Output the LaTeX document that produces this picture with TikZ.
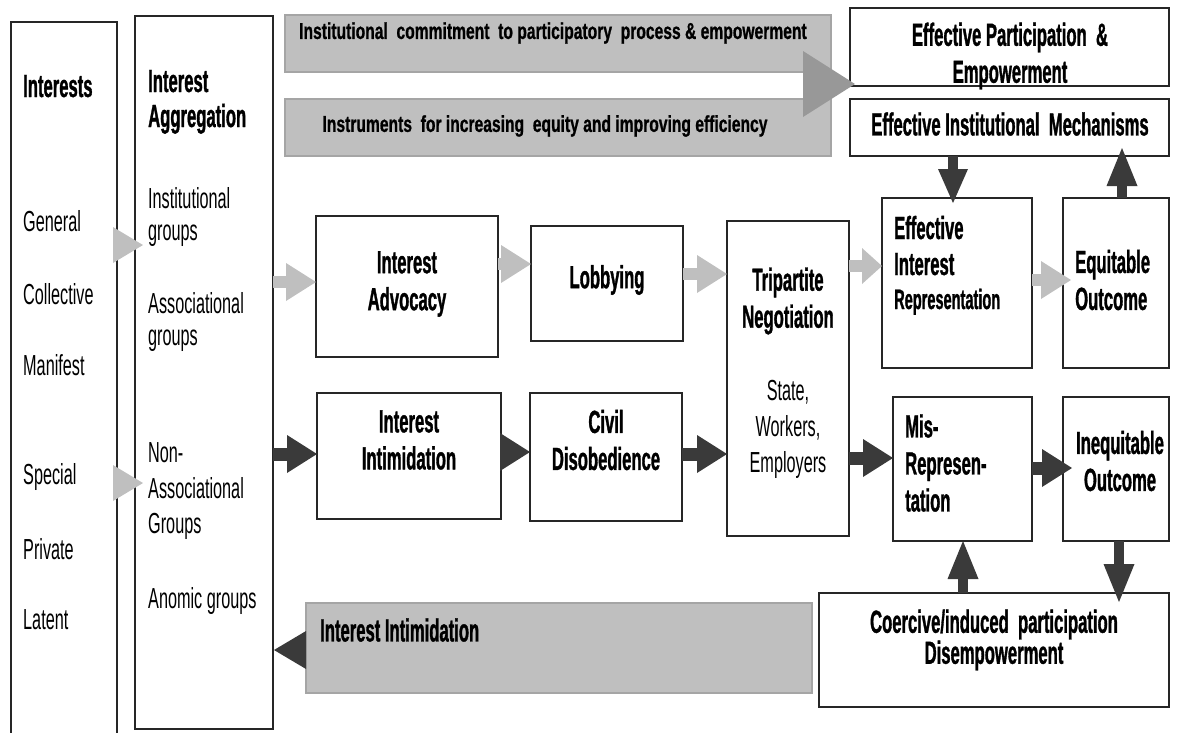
\documentclass[tikz,border=0pt]{standalone}
\usepackage{fontspec}
\setmainfont{Liberation Sans}
\newfontfamily\rgf{Liberation Sans}[FakeStretch=0.56]
\newfontfamily\bdf{Liberation Sans Bold}[FakeStretch=0.52,FakeBold=1]
\newfontfamily\bnf{Liberation Sans Bold}[FakeStretch=0.68,FakeBold=0.8]
\usetikzlibrary{arrows.meta,calc}
\definecolor{lgray}{HTML}{BFBFBF}
\definecolor{dgray}{HTML}{3A3A3A}
\definecolor{bgray}{HTML}{BFBFBF}
\definecolor{bedge}{HTML}{A5A5A5}
\definecolor{tgray}{HTML}{989898}
\tikzset{
  box/.style={draw=black!85, line width=1.4pt, inner sep=0pt, outer sep=0pt},
  banner/.style={draw=bedge, fill=bgray, line width=1.2pt, inner sep=0pt, outer sep=0pt},
  bt/.style={font=\bdf\fontsize{32}{37}\selectfont, align=center, inner sep=0pt},
  rt/.style={font=\rgf\fontsize{29}{35}\selectfont, inner sep=0pt},
  bant/.style={font=\bnf\fontsize{23}{26}\selectfont, inner sep=0pt},
  lar/.style={draw=lgray, line width=12pt, -{Triangle[length=30pt,width=38pt,line width=0pt]}},
  dar/.style={draw=dgray, line width=13pt, -{Triangle[length=30pt,width=38pt,line width=0pt]}},
  var/.style={draw=dgray, line width=10pt, -{Triangle[length=38pt,width=31pt,line width=0pt]}},
  lhead/.style={draw=lgray, line width=0.1pt, -{Triangle[length=30pt,width=36pt,line width=0pt]}},
  bighead/.style={draw=tgray, line width=0.1pt, -{Triangle[length=52pt,width=66pt,line width=0pt]}},
  dhead/.style={draw=dgray, line width=0.1pt, -{Triangle[length=32pt,width=38pt,line width=0pt]}},
}
\newcommand\mkbox[5]{\node[box, minimum width={#4-#2}, minimum height={#5-#3}] (#1) at ({(#2+#4)/2},{(#3+#5)/2}) {};}
\begin{document}
\begin{tikzpicture}[x=1pt,y=-1pt]
\useasboundingbox (0,0) rectangle (1179,732);
\clip (0,0) rectangle (1179,732);
% banners
\node[banner, minimum width=546, minimum height=57] (ban1) at (558,43.5) {};
\node[banner, minimum width=546, minimum height=57] (ban2) at (558,127.5) {};
\node[banner, minimum width=506, minimum height=90] (ban3) at (559,648) {};
% boxes
\mkbox{int}{11}{22}{117}{760}
\mkbox{agg}{135}{16}{273}{729}
\mkbox{ep}{850}{8}{1169}{86}
\mkbox{eim}{850}{99}{1169}{156}
\mkbox{adv}{316}{216}{498}{357}
\mkbox{lob}{531}{226}{683}{341}
\mkbox{tri}{727}{221}{849}{536}
\mkbox{eir}{882}{198}{1032}{368}
\mkbox{eq}{1063}{198}{1169}{368}
\mkbox{intim}{317}{393}{501}{519}
\mkbox{civ}{530}{393}{682}{521}
\mkbox{mis}{893}{397}{1032}{541}
\mkbox{ineq}{1063}{397}{1169}{541}
\mkbox{coer}{819}{593}{1169}{707}
% big triangle
\draw[bighead] ($(ban1.east |- 0,84)+(-28,0)$) -- ($(ep.west |- 0,84)+(5,0)$);
% triangles Interests -> Aggregation
\draw[lhead] ($(int.east |- 0,245)+(-4,0)$) -- ($(agg.west |- 0,245)+(8,0)$);
\draw[lhead] ($(int.east |- 0,483)+(-4,0)$) -- ($(agg.west |- 0,483)+(8,0)$);
% light arrows
\draw[lar] (agg.east |- 0,282) -- (adv.west |- 0,282);
\draw[lar] (adv.east |- 0,264) -- (lob.west |- 0,264);
\draw[lar] (lob.east |- 0,274) -- (tri.west |- 0,274);
\draw[draw=lgray, line width=12pt, -{Triangle[length=20pt,width=36pt,line width=0pt]}] (tri.east |- 0,266) -- (eir.west |- 0,266);
\draw[lar] (eir.east |- 0,280) -- ($(eq.west |- 0,280)+(8,0)$);
% dark arrows
\draw[dar] (agg.east |- 0,454) -- (intim.west |- 0,454);
\draw[dar] (intim.east |- 0,452) -- (civ.west |- 0,452);
\draw[dar] (civ.east |- 0,454) -- (tri.west |- 0,454);
\draw[dar] (tri.east |- 0,458) -- (mis.west |- 0,458);
\draw[dar] (mis.east |- 0,468) -- ($(ineq.west |- 0,468)+(9,0)$);
\draw[draw=dgray, line width=10pt, -{Triangle[length=34pt,width=30pt,line width=0pt]}] (eim.south -| 953,0) -- ($(eir.north -| 953,0)+(0,5)$);
\draw[var] (eq.north -| 1122,0) -- ($(eim.south -| 1122,0)+(0,-8)$);
\draw[var] (coer.north -| 963,0) -- (mis.south -| 963,0);
\draw[var] (ineq.south -| 1119,0) -- ($(coer.north -| 1119,0)+(0,9)$);
\draw[dhead] (ban3.west |- 0,650) -- ($(agg.east |- 0,650)+(1,0)$);
% banner texts
\node[bant, anchor=west] (tb1) at (299,33) {Institutional\ \ commitment\ \ to participatory\ \ process \& empowerment};
\node[bant] (tb2) at (545,126) {Instruments\ \ for increasing\ \ equity and improving efficiency};
\node[bt, anchor=west] (tb3) at (320,630) {Interest Intimidation};
% Interests column
\node[bt, anchor=base west] (t1) at (23,97) {Interests};
\node[rt, anchor=base west] (t2) at (23,231) {General};
\node[rt, anchor=base west] (t3) at (23,304) {Collective};
\node[rt, anchor=base west] (t4) at (23,375) {Manifest};
\node[rt, anchor=base west] (t5) at (23,484) {Special};
\node[rt, anchor=base west] (t6) at (23,559) {Private};
\node[rt, anchor=base west] (t7) at (23,629) {Latent};
% Aggregation column
\node[bt, anchor=base west] (a1) at (148,92) {Interest};
\node[bt, anchor=base west] (a2) at (148,127) {Aggregation};
\node[rt, anchor=base west] (a3) at (148,208) {Institutional};
\node[rt, anchor=base west] (a4) at (148,240) {groups};
\node[rt, anchor=base west] (a5) at (148,313) {Associational};
\node[rt, anchor=base west] (a6) at (148,345) {groups};
\node[rt, anchor=base west] (a7) at (148,462) {Non-};
\node[rt, anchor=base west] (a8) at (148,498) {Associational};
\node[rt, anchor=base west] (a9) at (148,533) {Groups};
\node[rt, anchor=base west] (a10) at (148,608) {Anomic groups};
% box texts
\node[bt] (x1) at (1010,56) {Effective Participation\ \ \&\\Empowerment};
\node[bt] (x2) at (1010,124) {Effective Institutional\ \ Mechanisms};
\node[bt] (x3) at (407,284) {Interest\\Advocacy};
\node[bt] (x4) at (607,280) {Lobbying};
\node[bt] (x5) at (788,301) {Tripartite\\Negotiation};
\node[rt, align=center, font=\rgf\fontsize{29}{36}\selectfont] (x6) at (788,429) {State,\\Workers,\\Employers};
\node[bt] (x7) at (409,440) {Interest\\Intimidation};
\node[bt] (x8) at (606,440) {Civil\\Disobedience};
\node[bt, anchor=base west] (x9) at (894,239) {Effective};
\node[bt, anchor=base west] (x10) at (894,275) {Interest};
\node[bt, anchor=base west, font=\bdf\fontsize{28}{32}\selectfont] (x11) at (894,309) {Representation};
\node[bt, align=left, anchor=west] (x12) at (1075,280) {Equitable\\Outcome};
\node[bt, align=left, anchor=west] (x13) at (905,463) {Mis-\\Represen-\\tation};
\node[bt] (x14) at (1120,461) {Inequitable\\Outcome};
\node[bt, font=\bdf\fontsize{32}{31}\selectfont] (x15) at (994,640) {Coercive/induced\ \ participation\\Disempowerment};
\end{tikzpicture}
\end{document}
